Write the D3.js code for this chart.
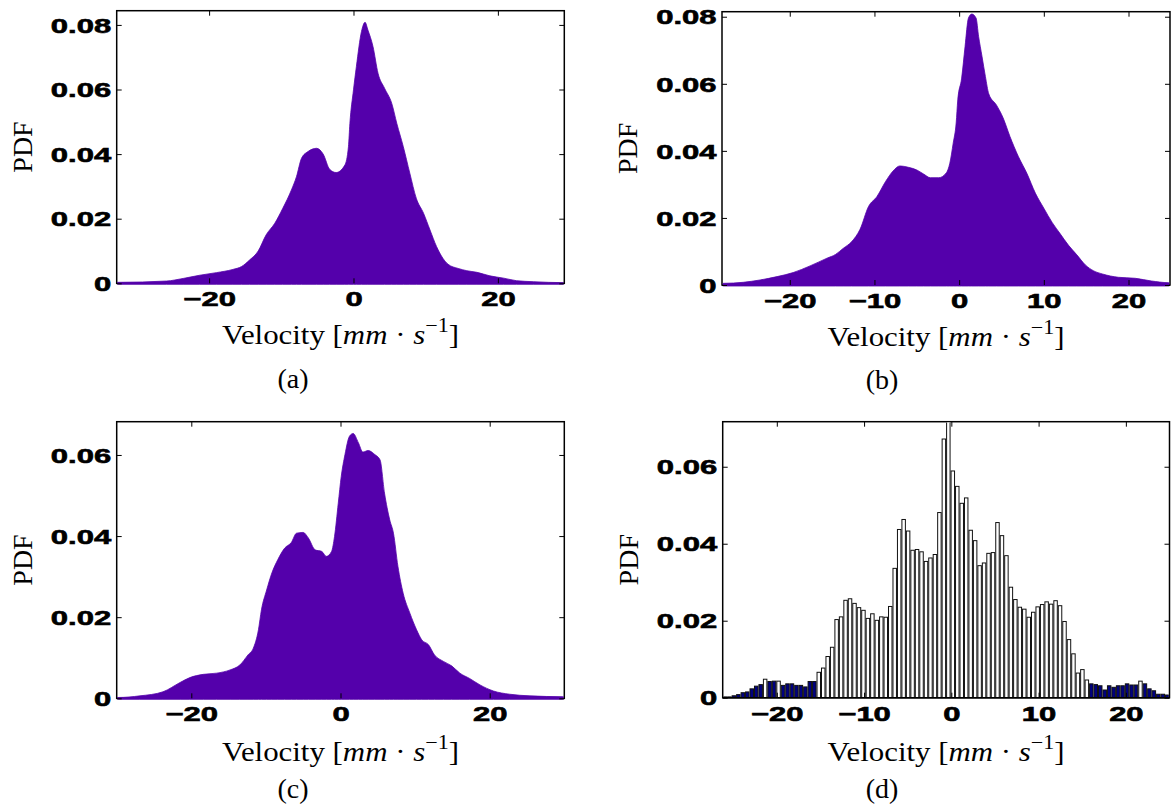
<!DOCTYPE html>
<html><head><meta charset="utf-8">
<script src="https://cdn.jsdelivr.net/npm/d3@7/dist/d3.min.js"></script>
<style>body{margin:0;background:#fff}svg{display:block}</style>
</head><body>
<svg id="chart" width="1171" height="808"></svg>
<script>
// ---------- data ----------
// (a)
const aVel = [-32.8,-32.6,-25.9,-23.6,-21.3,-19.0,-16.7,-15.5,-14.4,-13.2,-12.1,-10.9,-9.8,-8.6,-7.9,-7.2,-6.3,-5.1,-4.2,-3.3,-2.4,-1.2,-0.7,-0.5,0,0.4,1.1,1.6,2.0,2.7,3.4,4.3,5.3,6.0,6.9,7.8,8.7,9.7,10.6,11.5,12.4,13.1,14.5,15.7,17.1,18.9,20.8,22.6,24.9,29.1,29.2];
const aPDF = [0.0003,0.0003,0.0007,0.0015,0.0025,0.0033,0.0043,0.0052,0.0072,0.0100,0.0150,0.0186,0.0232,0.0289,0.0330,0.0387,0.0408,0.0418,0.0400,0.0353,0.0343,0.0366,0.0423,0.0495,0.0599,0.0671,0.0779,0.0808,0.0784,0.0733,0.0650,0.0604,0.0557,0.0495,0.0423,0.0341,0.0263,0.0217,0.0165,0.0114,0.0077,0.0059,0.0046,0.0039,0.0034,0.0023,0.0016,0.0008,0.0005,0.0002,0.0002];
// (b)
const bVel = [-28.0,-27.8,-25.5,-23.5,-21.5,-19.6,-17.6,-15.6,-14.6,-13.7,-12.7,-11.7,-10.7,-9.7,-8.7,-7.8,-7.0,-6.0,-5.0,-4.2,-3.4,-2.4,-1.5,-1.1,-0.7,-0.35,-0.16,0.3,0.7,1.1,1.5,2.0,2.3,2.7,3.1,3.5,4.4,5.2,6.0,7.0,8.0,9.0,10.0,11.0,11.9,12.9,13.9,14.9,15.9,16.9,18.8,20.8,22.7,24.7,24.9];
const bPDF = [0.0005,0.0005,0.0008,0.0015,0.0025,0.0037,0.0057,0.0080,0.0091,0.0109,0.0129,0.0166,0.0234,0.0264,0.0308,0.0340,0.0355,0.0351,0.0343,0.0331,0.0320,0.0320,0.0335,0.0363,0.0423,0.0483,0.0552,0.0617,0.0711,0.0796,0.0808,0.0796,0.0741,0.0682,0.0622,0.0570,0.0537,0.0498,0.0443,0.0383,0.0333,0.0274,0.0229,0.0186,0.0154,0.0119,0.0090,0.0060,0.0042,0.0033,0.0023,0.0020,0.0012,0.0007,0.0007];
// (c)
const cVel = [-30.0,-29.8,-26.9,-23.8,-21.5,-20.2,-18.4,-16.6,-14.8,-13.5,-12.4,-11.7,-11.0,-10.6,-9.9,-9.2,-8.4,-7.5,-6.6,-5.9,-5.0,-4.3,-3.4,-2.5,-1.9,-1.2,-0.8,-0.3,0.1,0.6,1.2,1.7,2.4,3.0,3.7,4.6,5.3,5.9,6.6,7.1,7.7,8.4,9.3,10.2,10.9,11.8,12.6,13.8,14.9,16.0,17.3,18.7,20.5,22.7,25.4,29.8,30.0];
const cPDF = [0.0002,0.0002,0.0006,0.0016,0.0039,0.0051,0.0059,0.0062,0.0070,0.0082,0.0107,0.0123,0.0169,0.0218,0.0267,0.0309,0.0342,0.0370,0.0384,0.0407,0.0409,0.0395,0.0366,0.0362,0.0350,0.0362,0.0399,0.0481,0.0547,0.0601,0.0646,0.0653,0.0630,0.0607,0.0611,0.0601,0.0588,0.0506,0.0440,0.0407,0.0325,0.0259,0.0210,0.0169,0.0144,0.0132,0.0107,0.0091,0.0080,0.0062,0.0049,0.0033,0.0018,0.0010,0.0006,0.0004,0.0004];
// (d) histogram: 100 bins starting at dBinStart, width dBinWidth
const dBinStart = -26.2;
const dBinWidth = 0.512;
const dPDF = [0.0002,0.0002,0.0005,0.0008,0.0013,0.0015,0.0023,0.0030,0.0034,0.0048,
0.0042,0.0043,0.0043,0.0032,0.0036,0.0036,0.0032,0.0032,0.0028,0.0042,
0.0042,0.0066,0.0077,0.0107,0.0131,0.0203,0.0210,0.0253,0.0257,0.0245,
0.0234,0.0227,0.0206,0.0218,0.0201,0.0210,0.0209,0.0237,0.0336,0.0437,
0.0463,0.0433,0.0383,0.0385,0.0379,0.0354,0.0363,0.0372,0.0481,0.0672,
0.0760,0.0589,0.0549,0.0505,0.0519,0.0435,0.0408,0.0343,0.0350,0.0375,
0.0377,0.0455,0.0421,0.0369,0.0287,0.0255,0.0235,0.0230,0.0209,0.0222,
0.0236,0.0242,0.0249,0.0243,0.0252,0.0239,0.0198,0.0151,0.0114,0.0064,
0.0073,0.0046,0.0036,0.0034,0.0031,0.0020,0.0031,0.0027,0.0031,0.0031,
0.0036,0.0033,0.0033,0.0043,0.0036,0.0023,0.0018,0.0009,0.0009,0.0007];
const dTailBins = [0,1,2,3,4,5,6,7,8,10,11,13,14,15,16,17,18,19,20,82,83,84,85,86,87,88,89,90,91,92,94,95,96,97,98,99];

const xTicksA = [-20,0,20];
const xTicksB = [-20,-10,0,10,20];
const xTicksC = [-20,0,20];
const xTicksD = [-20,-10,0,10,20];
const yTicksAB = [0,0.02,0.04,0.06,0.08];
const yTicksCD = [0,0.02,0.04,0.06];
const captions = ['(a)','(b)','(c)','(d)'];

// ---------- layout ----------
const PURPLE = '#5400ab', NAVY = '#000080';
const panels = [
  {id:'a', vel:aVel, pdf:aPDF, left:116.7, right:564.3, top:10.7, bottom:283.3, xDom:[-32.8,29.2], yMax:0.0844, xT:xTicksA, yT:yTicksAB, cap:captions[0], capX:293, labDy:61, capDy:105},
  {id:'b', vel:bVel, pdf:bPDF, left:722, right:1170, top:11.7, bottom:285, xDom:[-28.0,24.9], yMax:0.0815, xT:xTicksB, yT:yTicksAB, cap:captions[1], capX:882, labDy:61, capDy:104},
  {id:'c', vel:cVel, pdf:cPDF, left:116.7, right:564.3, top:421.7, bottom:698.3, xDom:[-30,30], yMax:0.0682, xT:xTicksC, yT:yTicksCD, cap:captions[2], capX:293, labDy:63, capDy:100},
  {id:'d', hist:true, left:722.7, right:1169.5, top:421.7, bottom:697.7, xDom:[dBinStart, dBinStart+dPDF.length*dBinWidth], yMax:0.0717, xT:xTicksD, yT:yTicksCD, cap:captions[3], capX:882, labDy:63.5, capDy:100.5}
];

const svg = d3.select('#chart');
svg.append('rect').attr('width',1171).attr('height',808).attr('fill','#fff');
const defs = svg.append('defs');

const SANS = '"Liberation Sans", Arial, Helvetica, sans-serif';
const SERIF = '"Liberation Serif", "Times New Roman", Times, serif';
const STRETCH = 1.55;
const fmtY = d => d === 0 ? '0' : d3.format('.2f')(d);
const fmtX = d => d < 0 ? '\u2212' + Math.abs(d) : String(d);

function styleTick(sel) {
  sel.style('font-family',SANS).attr('font-weight','bold').attr('font-size',20)
    .attr('fill','#000').attr('stroke','#000').attr('stroke-width',0.6);
}

panels.forEach(p => {
  const x = d3.scaleLinear().domain(p.xDom).range([p.left, p.right]);
  const y = d3.scaleLinear().domain([0, p.yMax]).range([p.bottom, p.top]);
  const g = svg.append('g');

  defs.append('clipPath').attr('id','clip-'+p.id).append('rect')
    .attr('x', p.left + 0.75).attr('y', p.top + 0.75)
    .attr('width', p.right - p.left - 1.5).attr('height', p.bottom - p.top + 0.5);

  // frame
  g.append('rect').attr('x',p.left).attr('y',p.top)
    .attr('width',p.right-p.left).attr('height',p.bottom-p.top)
    .attr('fill','none').attr('stroke','#000').attr('stroke-width',1.5);

  if (!p.hist) {
    const pts = p.vel.map((v,i)=>[v,p.pdf[i]]);
    const area = d3.area().x(d=>x(d[0])).y0(p.bottom+1).y1(d=>y(d[1])).curve(d3.curveMonotoneX);
    defs.select('#clip-'+p.id+' rect').attr('height', p.bottom - p.top + 1.5);
    g.append('path').datum(pts).attr('d',area).attr('fill',PURPLE)
      .attr('stroke',PURPLE).attr('stroke-width',0.8)
      .attr('clip-path','url(#clip-'+p.id+')');
  } else {
    const tail = new Set(dTailBins);
    const bins = dPDF.map((v,i)=>({i, x0:dBinStart+i*dBinWidth, x1:dBinStart+(i+1)*dBinWidth, v}));
    g.append('g').attr('clip-path','url(#clip-'+p.id+')')
      .selectAll('rect').data(bins).join('rect')
      .attr('x', d=>x(d.x0)+0.5).attr('y', d=>y(d.v))
      .attr('width', d=>x(d.x1)-x(d.x0)-1).attr('height', d=>y(0)-y(d.v))
      .attr('fill', d=>tail.has(d.i)?NAVY:'#fff')
      .attr('stroke','#111').attr('stroke-width',1);
    g.append('line').attr('x1',p.left).attr('x2',p.right).attr('y1',p.bottom).attr('y2',p.bottom)
      .attr('stroke','#000').attr('stroke-width',1.5);
  }

  // axes (inward ticks)
  const tk = 5;
  const bx = g.append('g').attr('transform',`translate(0,${p.bottom})`)
    .call(d3.axisBottom(x).tickValues(p.xT).tickSize(-tk).tickPadding(0).tickFormat(fmtX));
  bx.selectAll('text').attr('y',null).attr('dy',null)
    .attr('transform',`translate(0,23) scale(${STRETCH},1)`);
  styleTick(bx.selectAll('text'));
  const tx = g.append('g').attr('transform',`translate(0,${p.top})`)
    .call(d3.axisTop(x).tickValues(p.xT).tickSize(-tk).tickFormat(''));
  const ly = g.append('g').attr('transform',`translate(${p.left},0)`)
    .call(d3.axisLeft(y).tickValues(p.yT).tickSize(-tk).tickPadding(0).tickFormat(fmtY));
  ly.selectAll('text').attr('x',null).attr('dy','0.36em')
    .attr('transform',`translate(-5.5,0) scale(${STRETCH},1)`);
  styleTick(ly.selectAll('text'));
  const ry = g.append('g').attr('transform',`translate(${p.right},0)`)
    .call(d3.axisRight(y).tickValues(p.yT).tickSize(-tk).tickFormat(''));
  [bx,tx,ly,ry].forEach(a=>{
    a.select('.domain').remove();
    a.selectAll('line').attr('stroke','#000').attr('stroke-width',1);
  });

  // y label
  g.append('text').attr('transform',`translate(${p.left-85},${(p.top+p.bottom)/2}) rotate(-90)`)
    .attr('text-anchor','middle').style('font-family',SERIF).attr('font-size',28).attr('fill','#000')
    .text('PDF');

  // x label
  const cx = (p.left+p.right)/2;
  const lg = g.append('g');
  const t = lg.append('text').style('font-family',SERIF).attr('font-size',28).attr('fill','#000');
  t.append('tspan').text('Velocity [');
  t.append('tspan').attr('font-style','italic').text('mm');
  t.append('tspan').text(' \u00B7 ');
  t.append('tspan').attr('font-style','italic').text('s');
  t.append('tspan').attr('font-size',20).attr('dy',-12).text('\u22121');
  t.append('tspan').attr('dy',12).text(']');
  const w = t.node().getComputedTextLength();
  const s = 237 / w;
  t.attr('x', -w/2);
  lg.attr('transform',`translate(${cx},${p.bottom+p.labDy}) scale(${s},1)`);

  // caption
  g.append('text').attr('x',p.capX).attr('y',p.bottom+p.capDy).attr('text-anchor','middle')
    .style('font-family',SERIF).attr('font-size',28).attr('fill','#000').text(p.cap);
});
</script>
</body></html>
